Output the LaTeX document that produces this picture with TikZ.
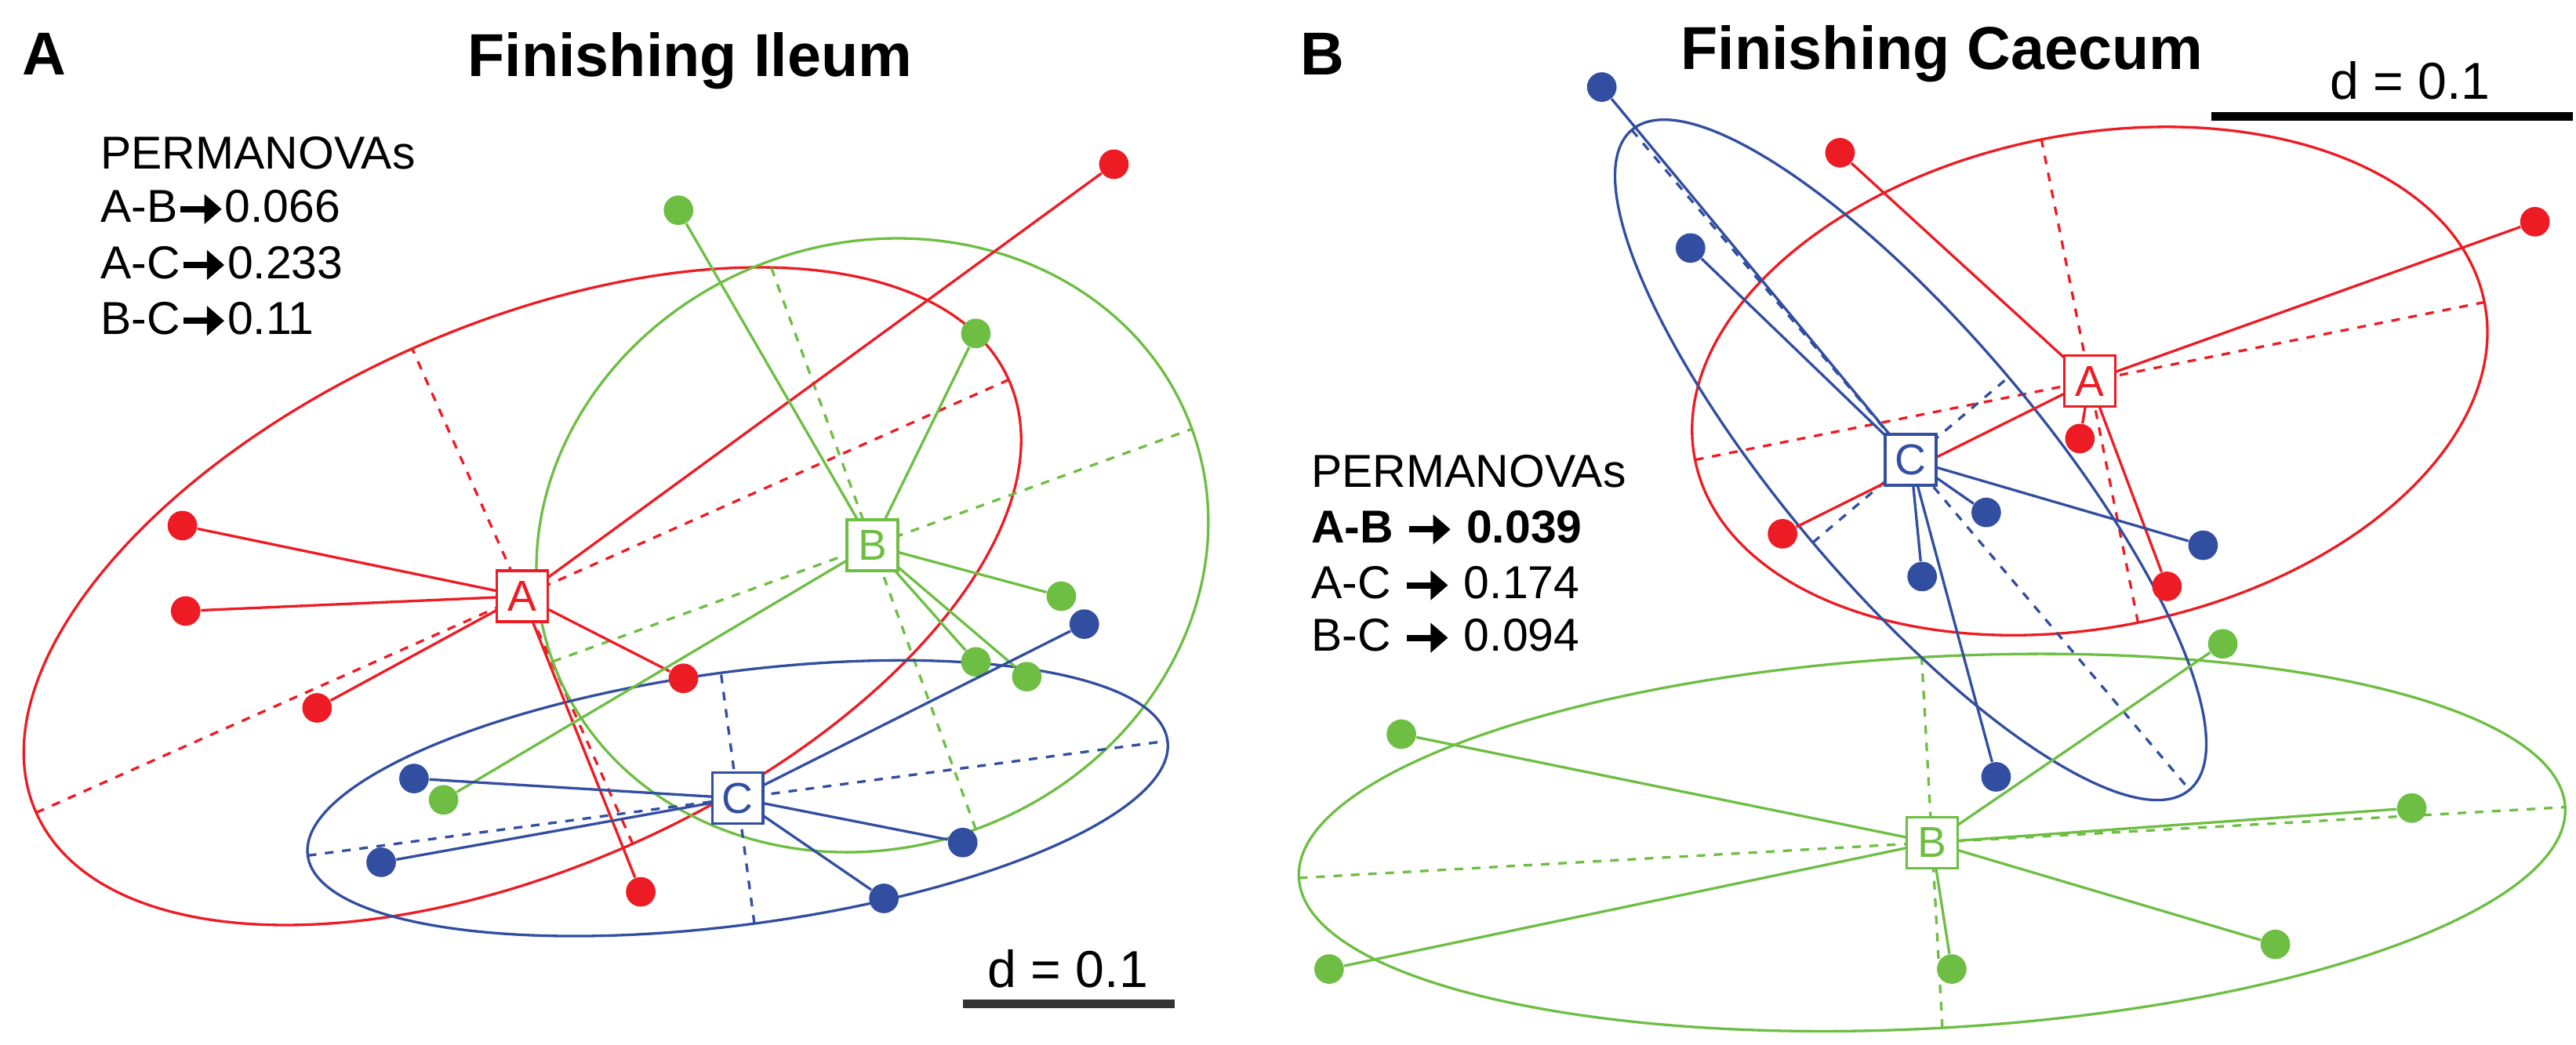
\documentclass[tikz,border=0pt]{standalone}
\usepackage{fontspec}
\setmainfont{Liberation Sans}
\usetikzlibrary{arrows.meta}
\definecolor{gred}{RGB}{237,28,36}
\definecolor{ggreen}{RGB}{110,190,68}
\definecolor{gblue}{RGB}{50,78,160}
\newcommand{\parrow}{\tikz[x=1cm,y=1cm,baseline=-0.55ex]\draw[line width=2.2pt,-{Triangle[length=6pt,width=10pt]}](0,0)--(0.5,0);}
\newcommand{\grpell}[5]{%
  \begin{scope}[shift={(#2)},rotate=#5,#1,line width=0.9pt]
    \draw (0,0) ellipse ({#3} and {#4});
    \draw[dashed] (-#3,0) -- (#3,0);
    \draw[dashed] (0,-#4) -- (0,#4);
  \end{scope}}
\begin{document}
\begin{tikzpicture}[x=0.02cm,y=0.02cm,
  pt/.style={circle,inner sep=0pt,minimum size=0.36cm},
  cent/.style={draw=#1,text=#1,fill=white,line width=0.9pt,inner sep=1.5pt,minimum size=0.62cm,font=\fontsize{15}{17}\selectfont},
  lab/.style={anchor=west,font=\fontsize{16}{19}\selectfont},
  ttl/.style={font=\fontsize{21}{25}\selectfont\bfseries},
  spoke/.style={line width=0.9pt}]
\useasboundingbox (0,0) rectangle (1568,-636);
% panel A
\node[ttl] (lA) at (27,-33) {A};
\node[ttl] (tA) at (420,-37) {Finishing Ileum};
\coordinate (iAc) at (318,-363);
\coordinate (iBc) at (531,-332);
\coordinate (iCc) at (449,-486);
\grpell{gred}{iAc}{324}{165}{24}
\grpell{ggreen}{iBc}{207}{184}{20}
\grpell{gblue}{iCc}{264}{77}{7.6}
\foreach \p [count=\i] in {(678,-100),(111,-320),(113,-372),(193,-431),(416,-413),(390,-543)}
  \node[pt,fill=gred] (ir\i) at \p {};
\foreach \p [count=\i] in {(413,-128),(594,-203),(646,-363),(594,-403),(625,-412),(270,-487)}
  \node[pt,fill=ggreen] (ig\i) at \p {};
\foreach \p [count=\i] in {(252,-474),(232,-525),(538,-547),(586,-513),(660,-380)}
  \node[pt,fill=gblue] (ib\i) at \p {};
\foreach \i in {1,...,6} \draw[spoke,gred] (iAc) -- (ir\i);
\foreach \i in {1,...,6} \draw[spoke,ggreen] (iBc) -- (ig\i);
\foreach \i in {1,...,5} \draw[spoke,gblue] (iCc) -- (ib\i);
\node[cent=gred] (iA) at (iAc) {A};
\node[cent=ggreen] (iB) at (iBc) {B};
\node[cent=gblue] (iC) at (iCc) {C};
\node[lab] (ip0) at (55,-93) {PERMANOVAs};
\node[lab] (ip1) at (55,-126) {A-B\parrow0.066};
\node[lab] (ip2) at (55,-160) {A-C\parrow0.233};
\node[lab] (ip3) at (55,-194) {B-C\parrow0.11};
\node[font=\fontsize{18}{21}\selectfont] (id) at (650,-590) {d = 0.1};
\draw[line width=3pt,black!80] (586,-611) -- (715,-611);
% panel B
\node[ttl] (lB) at (805,-33) {B};
\node[ttl] (tB) at (1182,-33) {Finishing Caecum};
\coordinate (cAc) at (1272,-232);
\coordinate (cBc) at (1176,-513);
\coordinate (cCc) at (1163,-280);
\grpell{gred}{cAc}{245}{150}{11.3}
\grpell{ggreen}{cBc}{386}{113}{3.2}
\grpell{gblue}{cCc}{263}{78}{-49.8}
\foreach \p [count=\i] in {(1120,-93),(1543,-135),(1266,-267),(1085,-325),(1319,-357)}
  \node[pt,fill=gred] (cr\i) at \p {};
\foreach \p [count=\i] in {(853,-447),(809,-590),(1188,-590),(1385,-575),(1468,-492),(1353,-392)}
  \node[pt,fill=ggreen] (cg\i) at \p {};
\foreach \p [count=\i] in {(975,-53),(1029,-151),(1209,-312),(1341,-332),(1170,-351),(1215,-473)}
  \node[pt,fill=gblue] (cb\i) at \p {};
\foreach \i in {1,...,5} \draw[spoke,gred] (cAc) -- (cr\i);
\foreach \i in {1,...,6} \draw[spoke,ggreen] (cBc) -- (cg\i);
\foreach \i in {1,...,6} \draw[spoke,gblue] (cCc) -- (cb\i);
\node[cent=gred] (cA) at (cAc) {A};
\node[cent=ggreen] (cB) at (cBc) {B};
\node[cent=gblue] (cC) at (cCc) {C};
\node[lab] (cp0) at (792,-287) {PERMANOVAs};
\node[lab] (cp1) at (792,-321) {\bfseries A-B \parrow\ 0.039};
\node[lab] (cp2) at (792,-355) {A-C \parrow\ 0.174};
\node[lab] (cp3) at (792,-387) {B-C \parrow\ 0.094};
\node[font=\fontsize{18}{21}\selectfont] (cd) at (1467,-49) {d = 0.1};
\draw[line width=3pt] (1346,-71) -- (1566,-71);
\end{tikzpicture}
\end{document}
